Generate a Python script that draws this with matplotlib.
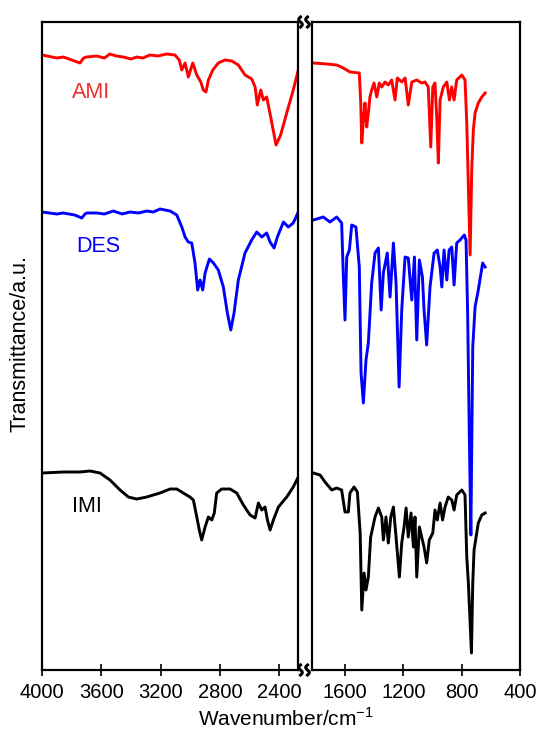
import matplotlib
matplotlib.use("Agg")
import matplotlib.pyplot as plt
import numpy as np
from matplotlib.lines import Line2D

plt.rcParams['font.family'] = ['Liberation Sans', 'DejaVu Sans']

# --- spectra, left part (4000-2275 cm-1) ---
ami_wn_l = [4000, 3900, 3856, 3800, 3744, 3720, 3699, 3631, 3580, 3542, 3500, 3452, 3400, 3362,
            3320, 3272, 3220, 3160, 3104, 3075, 3058, 3036,
            3014, 2984, 2957, 2930, 2913, 2895, 2879, 2849, 2812, 2767, 2721, 2677, 2632, 2587,
            2564, 2549, 2526, 2508, 2486, 2459, 2423, 2392, 2351, 2307, 2273]
ami_t_l = [615, 612, 613, 610, 607, 612, 613, 614, 612, 616, 614, 613, 611, 613,
           612, 615, 614, 616, 615, 610, 600, 607,
           593, 607, 595, 588, 580, 578, 590, 600, 607, 610, 609, 605, 595, 591,
           583, 565, 580, 570, 573, 553, 525, 535, 557, 580, 600]

des_wn_l = [4000, 3900, 3856, 3780, 3732, 3710, 3699, 3631, 3580, 3519, 3460, 3407, 3350, 3294,
            3250, 3205, 3137, 3092, 3058, 3036, 3014,
            2991, 2969, 2951, 2935, 2917, 2901, 2872, 2845, 2812, 2778, 2751, 2728, 2706, 2677,
            2632, 2587, 2553, 2519, 2486, 2463, 2436, 2414, 2373, 2340, 2307, 2273]
des_t_l = [458, 456, 457, 455, 452, 456, 457, 457, 456, 459, 456, 458, 457, 459,
           458, 461, 459, 455, 443, 433, 428,
           427, 407, 380, 390, 380, 397, 411, 407, 400, 383, 357, 340, 357, 390,
           417, 430, 438, 433, 437, 428, 422, 433, 448, 443, 447, 458]

imi_wn_l = [4000, 3856, 3744, 3676, 3609, 3542, 3474, 3418, 3362, 3294, 3205, 3137, 3092, 3048,
            3003, 2980, 2957, 2940, 2924, 2901, 2879, 2856, 2839, 2823, 2789, 2733, 2688, 2643,
            2598, 2564, 2542, 2519, 2497, 2481, 2463, 2441, 2407, 2351, 2307, 2273]
imi_t_l = [197, 198, 198, 199, 197, 190, 180, 173, 171, 173, 177, 181, 181, 177,
           173, 170, 153, 140, 130, 143, 153, 150, 157, 177, 181, 181, 177, 165,
           155, 152, 167, 160, 163, 150, 140, 150, 163, 173, 183, 193]

# --- spectra, right part (1829-639 cm-1) ---
ami_wn_r = [1817, 1725, 1657, 1612, 1566, 1502, 1492, 1485, 1474, 1463, 1451, 1440, 1429, 1417,
            1401, 1382, 1365, 1348, 1325, 1303, 1280, 1257, 1241, 1211, 1188, 1166, 1142, 1108,
            1074, 1051, 1029, 1012, 998, 983, 971, 960, 948, 926, 902, 884, 868, 852, 834, 799,
            777, 765, 754, 742, 731, 720, 708, 686, 662, 639]
ami_t_r = [607, 606, 605, 602, 598, 597, 567, 527, 550, 567, 543, 557, 573, 580,
           587, 573, 587, 583, 588, 585, 590, 570, 592, 588, 592, 565, 588, 590,
           587, 588, 583, 523, 583, 587, 553, 507, 570, 583, 588, 570, 583, 570, 590, 595,
           590, 547, 483, 415, 500, 540, 557, 567, 573, 577]

des_wn_r = [1817, 1749, 1703, 1657, 1623, 1612, 1600, 1588, 1570, 1554, 1525, 1502, 1490, 1474,
            1456, 1440, 1417, 1394, 1371, 1352, 1337, 1310, 1291, 1268, 1250, 1229, 1211, 1188,
            1166, 1142, 1124, 1108, 1090, 1069, 1058, 1040, 1017, 989, 967, 948, 936, 921, 902,
            886, 868, 852, 834, 811, 782, 770, 759, 748, 737, 724, 708, 686, 656, 639]
des_t_r = [450, 453, 448, 453, 447, 397, 350, 413, 420, 445, 443, 403, 297, 267,
           310, 327, 387, 417, 422, 360, 397, 417, 373, 427, 387, 283, 360, 413,
           412, 370, 413, 330, 410, 393, 360, 325, 383, 417, 420, 403, 383, 420, 390,
           420, 423, 385, 427, 430, 435, 430, 357, 240, 135, 323, 363, 380, 407, 403]

imi_wn_r = [1817, 1771, 1737, 1691, 1657, 1623, 1600, 1577, 1566, 1538, 1515, 1496, 1485, 1469,
            1456, 1440, 1424, 1394, 1371, 1348, 1337, 1319, 1303, 1286, 1268, 1250, 1227, 1211,
            1195, 1181, 1166, 1147, 1131, 1120, 1108, 1090, 1074, 1058, 1040, 1022, 998, 983,
            967, 948, 931, 914, 892, 868, 852, 834, 799, 777, 765, 754, 742, 733, 724, 715,
            701, 686, 662, 639]
imi_t_r = [197, 195, 188, 180, 182, 180, 158, 158, 177, 183, 178, 137, 60, 97,
           80, 93, 133, 153, 162, 153, 130, 153, 127, 153, 163, 133, 93, 127,
           143, 162, 133, 157, 123, 153, 93, 143, 133, 123, 107, 130, 137, 160,
           150, 167, 150, 163, 173, 170, 160, 175, 180, 175, 113, 87, 47, 17, 87, 120,
           133, 147, 155, 157]

names = ['AMI', 'DES', 'IMI']
colors = ['#ff0000', '#0000ff', '#000000']
label_colors = ['#e8312b', '#0000ff', '#000000']
label_pos = [(3800, 577), (3770, 423), (3800, 164)]

W, H = 538, 733
fig = plt.figure(figsize=(W / 100, H / 100), dpi=100)
ax1 = fig.add_axes([42 / W, (H - 670) / H, 256 / W, 648 / H])
ax2 = fig.add_axes([311.6 / W, (H - 670) / H, 208.4 / W, 648 / H])

left = [(ami_wn_l, ami_t_l), (des_wn_l, des_t_l), (imi_wn_l, imi_t_l)]
right = [(ami_wn_r, ami_t_r), (des_wn_r, des_t_r), (imi_wn_r, imi_t_r)]
for (xl, yl), (xr, yr), c in zip(left, right, colors):
    ax1.plot(xl, yl, color=c, lw=2.1, solid_joinstyle='round')
    ax2.plot(xr, yr, color=c, lw=2.1, solid_joinstyle='round')

for name, c, (x, y) in zip(names, label_colors, label_pos):
    ax1.text(x, y, name, color=c, fontsize=15.5, va='center', ha='left')

ax1.set_xlim(4000, 2275)
ax2.set_xlim(1829, 400)
for ax in (ax1, ax2):
    ax.set_ylim(0, 648)
    ax.set_yticks([])
    for s in ax.spines.values():
        s.set_linewidth(1.6)
    ax.tick_params(axis='x', direction='inout', length=8, width=1.2,
                   labelsize=14.5, pad=5)
ax1.set_xticks([4000, 3600, 3200, 2800, 2400])
ax2.set_xticks([1600, 1200, 800, 400])

# break marks at top and bottom of the gap
for yp in (22, 670):
    for x0 in (300.5, 307.5):
        t = np.linspace(-1, 1, 30)
        xs = (x0 + 1.8 * np.sin(t * np.pi)) / W
        ys = (H - yp - 5 * t) / H
        fig.add_artist(Line2D(xs, ys, color='black', lw=2.2, transform=fig.transFigure))

fig.text(20 / W, (H - 343) / H, 'Transmittance/a.u.', rotation=90, fontsize=15.5,
         ha='center', va='center')
fig.text(286 / W, (H - 719) / H, 'Wavenumber/cm$^{\\mathregular{-1}}$', fontsize=15,
         ha='center', va='center')

fig.savefig('out.png', dpi=100)
